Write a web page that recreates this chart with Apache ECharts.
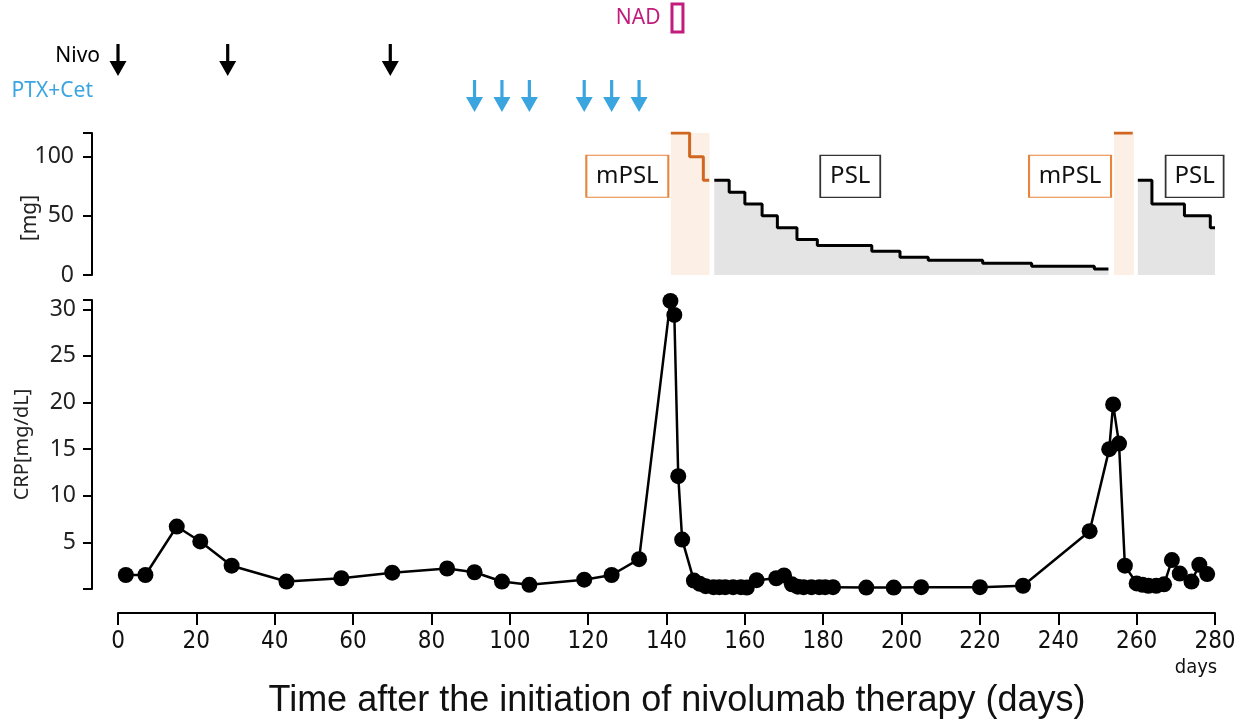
<!DOCTYPE html>
<html>
<head>
<meta charset="utf-8">
<script src="https://cdn.jsdelivr.net/npm/echarts@6/dist/echarts.min.js"></script>
<style>
html, body { margin: 0; padding: 0; background: #fff; }
#main { width: 1243px; height: 726px; }
</style>
</head>
<body>
<div id="main"></div>
<script>
// CRP [mg/dL] by day
var crpDays = [2, 7, 15, 21, 29, 43, 57, 70, 84, 91, 98, 105, 119, 126, 133,
  141, 142, 143, 144, 147, 148.5, 150, 152, 153.5, 155, 157, 159, 160.5, 163,
  168, 170, 172, 173.5, 175, 177, 179, 180.5, 182.5, 191, 198, 205, 220, 231,
  248, 253, 254, 255.5, 257, 260, 261.5, 263, 265, 267, 269, 271, 274, 276, 278];
var crpValues = [1.5, 1.5, 6.7, 5.1, 2.5, 0.8, 1.15, 1.75, 2.2, 1.8, 0.8, 0.45, 1.0, 1.5, 3.2,
  30.9, 29.4, 12.1, 5.3, 0.9, 0.55, 0.3, 0.2, 0.2, 0.2, 0.2, 0.2, 0.15, 0.95,
  1.15, 1.45, 0.5, 0.25, 0.2, 0.2, 0.2, 0.2, 0.2, 0.15, 0.15, 0.2, 0.2, 0.35,
  6.2, 15.0, 19.8, 15.6, 2.5, 0.6, 0.45, 0.35, 0.35, 0.5, 3.1, 1.65, 0.8, 2.6, 1.6];

// steroid doses [mg]
var mpslDays1 = [141.1, 145.9, 149.4, 150.9];
var mpslDose1 = [120, 100, 80, 80];
var mpslDays2 = [254.2, 259];
var mpslDose2 = [120, 120];
var pslDays1 = [152.2, 156, 160, 164.4, 168.3, 173.3, 178.5, 192.4, 199.6, 206.8, 220.7, 233.2, 249.2, 252.8];
var pslDose1 = [80, 70, 60, 50, 40, 30, 25, 20, 15, 12.5, 10, 7.5, 5, 5];
var pslDays2 = [260.3, 263.9, 272.2, 278.8, 280];
var pslDose2 = [80, 60, 50, 40, 40];
var mpslBands = [[141.1, 151], [254.2, 259.3]];

// treatment events
var nivoDays = [0, 28, 69.5];
var ptxDays = [91, 98, 105, 119, 126, 133];
var nadSpan = [141.4, 144.2];

var dayMax = 280;
var orange = '#d0661f';
var orangeBox = '#e8843c';
var blue = '#3ba5e0';
var magenta = '#c21c7c';
var narrowFont = '"Liberation Sans Narrow", "DejaVu Sans Condensed", "Liberation Sans", sans-serif';

function zip(xs, ys) {
  return xs.map(function (x, i) { return [x, ys[i]]; });
}

var arrowPath = 'path://M6.5,0 L9.5,0 L9.5,17 L16,17 L8,32 L0,17 L6.5,17 Z';

var chart = echarts.init(document.getElementById('main'));

var yLabel = { color: '#222', fontSize: 23, fontFamily: 'Noto Sans' };
var boxLabel = { show: true, position: 'inside', color: '#111', fontSize: 24, fontFamily: 'Noto Sans' };

var option = {
  animation: false,
  grid: [
    { left: 118, right: 28, top: 0, height: 120 },
    { left: 118, right: 28, top: 133, height: 142 },
    { left: 118, right: 28, top: 300, height: 289 }
  ],
  xAxis: [
    { gridIndex: 0, type: 'value', min: 0, max: dayMax, show: false },
    { gridIndex: 1, type: 'value', min: 0, max: dayMax, show: false },
    {
      gridIndex: 2, type: 'value', min: 0, max: dayMax, interval: 20, offset: 24,
      axisLine: { onZero: false, lineStyle: { color: '#000', width: 2 } },
      axisTick: { length: 12, lineStyle: { color: '#000', width: 2 } },
      axisLabel: { color: '#111', fontSize: 24, fontFamily: narrowFont, margin: 17 },
      splitLine: { show: false }
    }
  ],
  yAxis: [
    { gridIndex: 0, type: 'value', min: 0, max: 120, inverse: true, show: false },
    {
      gridIndex: 1, type: 'value', min: 0, max: 120, interval: 50, offset: 26,
      axisLine: { show: true, onZero: false, lineStyle: { color: '#000', width: 2 } },
      axisTick: { show: true, length: 9, lineStyle: { color: '#000', width: 2 } },
      axisLabel: Object.assign({ margin: 18, formatter: function (v) { return v % 50 === 0 ? v : ''; } }, yLabel),
      splitLine: { show: false }
    },
    {
      gridIndex: 2, type: 'value', min: 0, max: 31, interval: 5, offset: 26,
      name: 'CRP[mg/dL]', nameLocation: 'middle', nameGap: 60, nameRotate: 90,
      nameTextStyle: { color: '#222', fontSize: 20, fontFamily: 'Noto Sans' },
      axisLine: { show: true, onZero: false, lineStyle: { color: '#000', width: 2 } },
      axisTick: { show: true, length: 9, lineStyle: { color: '#000', width: 2 } },
      axisLabel: Object.assign({ margin: 16, formatter: function (v) { return (v > 0 && v % 5 === 0) ? v : ''; } }, yLabel),
      splitLine: { show: false }
    }
  ],
  graphic: [
    { type: 'text', x: 100, y: 56, style: { text: 'Nivo', fill: '#000', font: '21px "Noto Sans"', textAlign: 'right', textVerticalAlign: 'middle' } },
    { type: 'text', x: 93, y: 91, style: { text: 'PTX+Cet', fill: blue, font: '21px "Noto Sans"', textAlign: 'right', textVerticalAlign: 'middle' } },
    { type: 'text', x: 30, y: 218, rotation: Math.PI / 2, style: { text: '[mg]', fill: '#222', font: '21px "Noto Sans"', textAlign: 'center', textVerticalAlign: 'middle' } },
    { type: 'text', x: 1196, y: 668, style: { text: 'days', fill: '#111', font: '20px ' + narrowFont, textAlign: 'center', textVerticalAlign: 'middle' } },
    { type: 'text', x: 677, y: 701, style: { text: 'Time after the initiation of nivolumab therapy (days)', fill: '#111', font: '36px "Liberation Sans"', textAlign: 'center', textVerticalAlign: 'middle' } }
  ],
  series: [
    {
      name: 'Nivo', type: 'scatter', xAxisIndex: 0, yAxisIndex: 0,
      symbol: arrowPath, symbolSize: [17, 32], itemStyle: { color: '#000', opacity: 1 },
      data: nivoDays.map(function (d) { return [d, 60]; })
    },
    {
      name: 'PTX+Cet', type: 'scatter', xAxisIndex: 0, yAxisIndex: 0,
      symbol: arrowPath, symbolSize: [17, 32], itemStyle: { color: blue, opacity: 1 },
      data: ptxDays.map(function (d) { return [d, 96]; })
    },
    {
      name: 'NAD', type: 'line', xAxisIndex: 0, yAxisIndex: 0, data: [],
      markArea: {
        silent: true,
        itemStyle: { color: 'rgba(255,255,255,0)', borderColor: magenta, borderWidth: 3 },
        label: { show: true, position: 'left', distance: 10, formatter: 'NAD', color: magenta, fontSize: 21, fontFamily: 'Noto Sans' },
        data: [[{ xAxis: nadSpan[0], yAxis: 4 }, { xAxis: nadSpan[1], yAxis: 32 }]]
      }
    },
    {
      name: 'mPSL', type: 'line', step: 'end', xAxisIndex: 1, yAxisIndex: 1,
      showSymbol: false, lineStyle: { color: orange, width: 3 },
      data: zip(mpslDays1, mpslDose1),
      markArea: {
        silent: true,
        itemStyle: { color: '#fcefe5' },
        data: mpslBands.map(function (b) { return [{ xAxis: b[0], yAxis: 0 }, { xAxis: b[1], yAxis: 120 }]; })
      },
      markPoint: {
        symbol: 'rect', symbolSize: [82, 42],
        itemStyle: { color: '#fff', borderColor: orangeBox, borderWidth: 1.5 },
        label: Object.assign({ formatter: 'mPSL' }, boxLabel),
        data: [{ coord: [130, 83.4] }, { coord: [243, 83.4] }]
      }
    },
    {
      name: 'mPSL2', type: 'line', step: 'end', xAxisIndex: 1, yAxisIndex: 1,
      showSymbol: false, lineStyle: { color: orange, width: 3 },
      data: zip(mpslDays2, mpslDose2)
    },
    {
      name: 'PSL', type: 'line', step: 'end', xAxisIndex: 1, yAxisIndex: 1,
      showSymbol: false, lineStyle: { color: '#000', width: 3 },
      areaStyle: { color: '#e4e4e4', opacity: 1 },
      data: zip(pslDays1, pslDose1),
      markPoint: {
        symbol: 'rect', symbolSize: [60, 42],
        itemStyle: { color: '#fff', borderColor: '#333', borderWidth: 1.5 },
        label: Object.assign({ formatter: 'PSL' }, boxLabel),
        data: [{ coord: [186.9, 83.4] }]
      }
    },
    {
      name: 'PSL2', type: 'line', step: 'end', xAxisIndex: 1, yAxisIndex: 1,
      showSymbol: false, lineStyle: { color: '#000', width: 3 },
      areaStyle: { color: '#e4e4e4', opacity: 1 },
      data: zip(pslDays2, pslDose2),
      markPoint: {
        symbol: 'rect', symbolSize: [58, 42],
        itemStyle: { color: '#fff', borderColor: '#333', borderWidth: 1.5 },
        label: Object.assign({ formatter: 'PSL' }, boxLabel),
        data: [{ coord: [274.8, 83.4] }]
      }
    },
    {
      name: 'CRP', type: 'line', xAxisIndex: 2, yAxisIndex: 2,
      symbol: 'circle', symbolSize: 16, showAllSymbol: true,
      itemStyle: { color: '#000' },
      lineStyle: { color: '#000', width: 2.5 },
      data: zip(crpDays, crpValues), z: 5
    }
  ]
};

chart.setOption(option);
</script>
</body>
</html>
